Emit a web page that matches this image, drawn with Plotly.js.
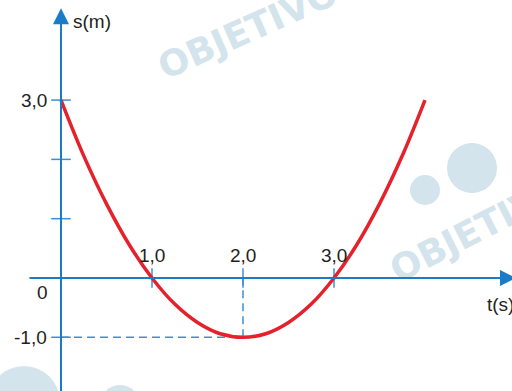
<!DOCTYPE html>
<html>
<head>
<meta charset="utf-8">
<script src="https://cdn.plot.ly/plotly-3.0.1.min.js"></script>
<style>
  html, body { margin: 0; padding: 0; background: #fff; }
  #chart { width: 512px; height: 391px; }
</style>
</head>
<body>
<div id="chart"></div>
<script>
// position s(m) against time t(s)
const tValues = [0, 0.25, 0.5, 0.75, 1, 1.25, 1.5, 1.75, 2, 2.25, 2.5, 2.75, 3, 3.25, 3.5, 3.75, 4];
const sValues = [3.0, 2.06, 1.25, 0.56, 0, -0.44, -0.75, -0.94, -1.0, -0.94, -0.75, -0.44, 0, 0.56, 1.25, 2.06, 3.0];

const xTicks = [1, 2, 3];
const xTickLabels = ["1,0", "2,0", "3,0"];
const yTicks = [-1, 0, 1, 2, 3];
const yLabelValues = [3, -1];
const yLabelTexts = ["3,0", "-1,0"];
const minT = 2;
const minS = -1;

const axisBlue = "#1a7cc9";
const tickBlue = "#3a90d8";
const red = "#e5212b";
const mark = "#d4e4ec";
const font = "Liberation Sans, Arial, sans-serif";

const traces = [
  {
    // dashed guide to the minimum
    x: [0, minT, minT],
    y: [minS, minS, 0],
    type: "scatter",
    mode: "lines",
    line: { color: tickBlue, width: 1.5, dash: "8px,5px" },
    hoverinfo: "skip",
  },
  {
    x: xTicks,
    y: xTicks.map(() => 0),
    type: "scatter",
    mode: "markers",
    marker: { symbol: "line-ns-open", size: 14, color: tickBlue, line: { color: tickBlue, width: 1.5 } },
    hoverinfo: "skip",
  },
  {
    x: yTicks.map(() => 0),
    y: yTicks,
    type: "scatter",
    mode: "markers",
    marker: { symbol: "line-ew-open", size: 14, color: tickBlue, line: { color: tickBlue, width: 1.5 } },
    hoverinfo: "skip",
  },
  {
    x: tValues,
    y: sValues,
    type: "scatter",
    mode: "lines",
    line: { color: red, width: 3.5, shape: "spline" },
    name: "s(t)",
  },
];

const watermark = (cx, cy, angle) => ({
  x: cx / 512, y: 1 - cy / 391, xref: "paper", yref: "paper",
  xanchor: "center", yanchor: "middle",
  text: "<b>OBJETIVO</b>", showarrow: false, textangle: angle,
  font: { family: "DejaVu Sans, sans-serif", size: 36, color: mark },
});

const annotations = [
  watermark(248, 30, -24),
  watermark(478, 228, -27),
  // axes with arrow heads
  {
    x: 0, y: 4.55, ax: 0, ay: -1.95,
    xref: "x", yref: "y", axref: "x", ayref: "y",
    text: "", showarrow: true, arrowhead: 2, arrowsize: 1.6, arrowwidth: 2, arrowcolor: axisBlue,
  },
  {
    x: 5.0, y: 0, ax: -0.363, ay: 0,
    xref: "x", yref: "y", axref: "x", ayref: "y",
    text: "", showarrow: true, arrowhead: 2, arrowsize: 1.6, arrowwidth: 2, arrowcolor: axisBlue,
  },
  { x: 0, y: 4.32, xref: "x", yref: "y", text: "s(m)", showarrow: false, xanchor: "left", xshift: 10 },
  { x: 4.66, y: 0, xref: "x", yref: "y", text: "t(s)", showarrow: false, xanchor: "left", yshift: -27 },
  { x: 0, y: 0, xref: "x", yref: "y", text: "0", showarrow: false, xshift: -19, yshift: -15 },
  ...xTicks.map((v, i) => ({
    x: v, y: 0, xref: "x", yref: "y", text: xTickLabels[i], showarrow: false, yshift: 22,
  })),
  ...yLabelValues.map((v, i) => ({
    x: 0, y: v, xref: "x", yref: "y", text: yLabelTexts[i], showarrow: false, xanchor: "right", xshift: -12,
  })),
];

const circle = (cx, cy, r) => ({
  type: "circle", xref: "paper", yref: "paper", layer: "below",
  x0: (cx - r) / 512, x1: (cx + r) / 512, y0: 1 - (cy + r) / 391, y1: 1 - (cy - r) / 391,
  fillcolor: mark, line: { width: 0 },
});

const layout = {
  width: 512,
  height: 391,
  margin: { l: 0, r: 0, t: 0, b: 0 },
  paper_bgcolor: "#fff",
  plot_bgcolor: "#fff",
  showlegend: false,
  font: { family: font, size: 19, color: "#231f20" },
  xaxis: { range: [-0.6703, 4.956], visible: false, fixedrange: true },
  yaxis: { range: [-1.906, 4.688], visible: false, fixedrange: true },
  annotations,
  shapes: [
    circle(472, 168, 25),
    circle(425, 190, 15),
    circle(24, 402, 36),
    circle(120, 405, 20),
  ],
};

Plotly.newPlot("chart", traces, layout, { staticPlot: true });
</script>
</body>
</html>
